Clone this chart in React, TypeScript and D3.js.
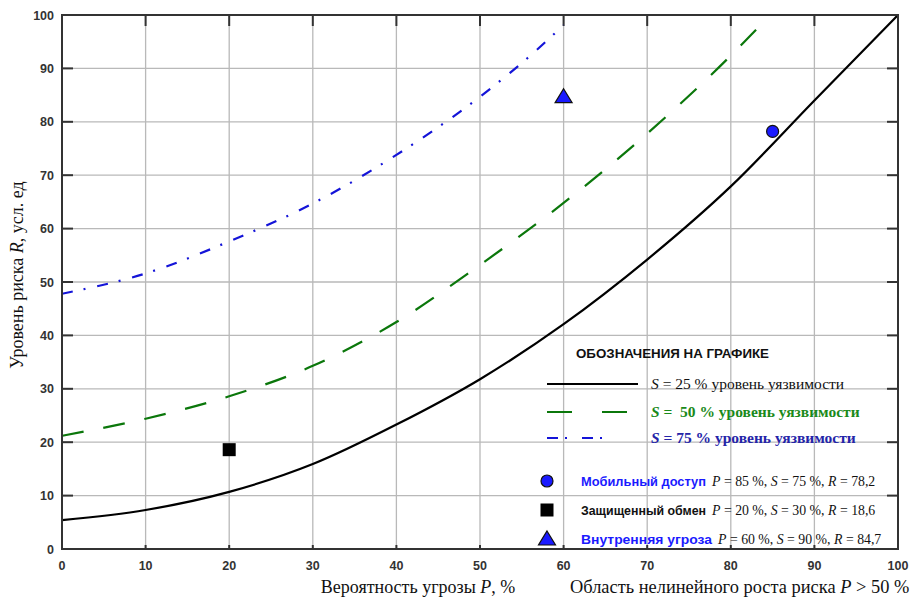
import React from 'react'
import * as d3 from 'd3'

// данные
const ticks = [0, 10, 20, 30, 40, 50, 60, 70, 80, 90, 100]

const pS25 = [0, 10, 20, 30, 40, 50, 60, 70, 80, 90, 100]
const rS25 = [5.4, 7.3, 10.7, 15.9, 23.3, 31.8, 42.1, 54.2, 67.9, 84.0, 100]

const pS50 = [0, 10, 20, 30, 40, 50, 60, 70, 80, 84.7]
const rS50 = [21.2, 24.4, 28.6, 34.3, 42.5, 53.2, 64.8, 77.8, 92.4, 100]

const pS75 = [0, 10, 20, 30, 40, 50, 55, 60]
const rS75 = [47.8, 51.6, 57.6, 64.7, 73.8, 84.7, 91.0, 98.1]

const pointNames = ['Мобильный доступ', 'Защищенный обмен', 'Внутренняя угроза']
const pointP = [85, 20, 60]
const pointS = [75, 30, 90]
const pointR = [78.2, 18.6, 84.7]

const W = 916, H = 598
const left = 62, right = 898, top = 15, bottom = 549

const x = d3.scaleLinear().domain([0, 100]).range([left, right])
const y = d3.scaleLinear().domain([0, 100]).range([bottom, top])

const line = d3.line<[number, number]>()
    .x(d => x(d[0]))
    .y(d => y(d[1]))
    .curve(d3.curveMonotoneX)

const zip = (a: number[], b: number[]) => a.map((v, i) => [v, b[i]] as [number, number])

const GREEN = '#0b770b'
const BLUE = '#1414d8'
const MARK_BLUE = '#1a1aff'

const serif = '"Liberation Serif", "Times New Roman", serif'
const sans = '"Liberation Sans", Arial, sans-serif'

const Marker = ({ i, cx, cy }: { i: number, cx: number, cy: number }) => {
    if (i === 0) return <circle cx={cx} cy={cy} r={6} fill={MARK_BLUE} stroke="#111" strokeWidth={1.2} />
    if (i === 1) return <rect x={cx - 6.5} y={cy - 6.5} width={13} height={13} fill="#000" />
    return <path d={`M${cx},${cy - 8} L${cx + 8.5},${cy + 6} L${cx - 8.5},${cy + 6} Z`} fill={MARK_BLUE} stroke="#111" strokeWidth={1.2} />
}

export default function App() {
    const legendX = 547
    const nameWidths = [125, 125, 131]
    const nameColors = [MARK_BLUE, '#111', MARK_BLUE]
    const itemY = [481, 510, 539]

    return (
        <svg width={W} height={H} style={{ display: 'block', position: 'absolute', left: 0, top: 0 }}>
            <rect width={W} height={H} fill="#fff" />

            {/* сетка */}
            {ticks.slice(1, -1).map(t => (
                <line key={'gx' + t} x1={x(t)} x2={x(t)} y1={top} y2={bottom} stroke="#b9b9b9" strokeWidth={1.3} />
            ))}
            {ticks.slice(1, -1).map(t => (
                <line key={'gy' + t} x1={left} x2={right} y1={y(t)} y2={y(t)} stroke="#b9b9b9" strokeWidth={1.3} />
            ))}

            {/* внутренние засечки */}
            {ticks.slice(1, -1).map(t => (
                <g key={'tk' + t} stroke="#333" strokeWidth={2}>
                    <line x1={left} x2={left + 11} y1={y(t)} y2={y(t)} />
                    <line x1={right - 11} x2={right} y1={y(t)} y2={y(t)} />
                    <line x1={x(t)} x2={x(t)} y1={top} y2={top + 11} />
                    <line x1={x(t)} x2={x(t)} y1={bottom - 4} y2={bottom} />
                </g>
            ))}

            {/* кривые */}
            <path d={line(zip(pS75, rS75)) || ''} fill="none" stroke={BLUE} strokeWidth={2.2} strokeDasharray="11 11 2 12" />
            <path d={line(zip(pS50, rS50)) || ''} fill="none" stroke={GREEN} strokeWidth={2.2} strokeDasharray="22 20" />
            <path d={line(zip(pS25, rS25)) || ''} fill="none" stroke="#000" strokeWidth={2.2} />

            {/* точки */}
            {pointNames.map((n, i) => (
                <Marker key={'pt' + i} i={i} cx={x(pointP[i])} cy={y(pointR[i])} />
            ))}

            {/* рамка */}
            <rect x={left} y={top} width={right - left} height={bottom - top} fill="none" stroke="#333" strokeWidth={2} />

            {/* подписи осей */}
            {ticks.map(t => (
                <text key={'yl' + t} x={left - 8} y={y(t) + 4.5} textAnchor="end" fontFamily={sans} fontWeight="bold" fontSize={12.5} fill="#333">{t}</text>
            ))}
            {ticks.map(t => (
                <text key={'xl' + t} x={x(t)} y={bottom + 21} textAnchor="middle" fontFamily={sans} fontWeight="bold" fontSize={12.5} fill="#333">{t}</text>
            ))}

            <text transform={`translate(23, 275) rotate(-90)`} textAnchor="middle" fontFamily={serif} fontSize={18} fill="#111">
                Уровень риска <tspan fontStyle="italic">R</tspan>, усл. ед
            </text>
            <text x={418} y={593} textAnchor="middle" fontFamily={serif} fontSize={18} fill="#111">
                Вероятность угрозы <tspan fontStyle="italic">P</tspan>, %
            </text>
            <text x={570} y={593} fontFamily={serif} fontSize={18.4} fill="#111">
                Область нелинейного роста риска <tspan fontStyle="italic">P</tspan> {'>'} 50 %
            </text>

            {/* легенда */}
            <text x={576} y={358} fontFamily={sans} fontWeight="bold" fontSize={13.5} fill="#111" textLength={193} lengthAdjust="spacingAndGlyphs">
                ОБОЗНАЧЕНИЯ НА ГРАФИКЕ
            </text>

            <line x1={legendX} x2={638} y1={384} y2={384} stroke="#000" strokeWidth={2.2} />
            <text x={651} y={389} fontFamily={serif} fontSize={15.5} fill="#111">
                <tspan fontStyle="italic">S</tspan> = 25 % уровень уязвимости
            </text>

            <line x1={legendX} x2={630} y1={412} y2={412} stroke={GREEN} strokeWidth={2.2} strokeDasharray="25 30" />
            <text x={651} y={417} fontFamily={serif} fontSize={15.5} fontWeight="bold" fill="#1a8a1a" style={{ whiteSpace: 'pre' }}>
                <tspan fontStyle="italic">S</tspan>{' =  50 % уровень уязвимости'}
            </text>

            <line x1={legendX} x2={605} y1={438} y2={438} stroke={BLUE} strokeWidth={2.2} strokeDasharray="11 7 2 15" />
            <text x={651} y={443} fontFamily={serif} fontSize={15.5} fontWeight="bold" fill="#2424a8">
                <tspan fontStyle="italic">S</tspan> = 75 % уровень уязвимости
            </text>

            {pointNames.map((n, i) => (
                <g key={'lg' + i}>
                    <Marker i={i} cx={legendX} cy={itemY[i]} />
                    <text x={581} y={itemY[i] + 5} fontFamily={sans} fontWeight="bold" fontSize={12.5} fill={nameColors[i]} textLength={nameWidths[i]} lengthAdjust="spacingAndGlyphs">{n}</text>
                    <text x={581 + nameWidths[i] + 6} y={itemY[i] + 5} fontFamily={serif} fontSize={13.8} fill="#111">
                        <tspan fontStyle="italic">P</tspan> = {pointP[i]} %, <tspan fontStyle="italic">S</tspan> = {pointS[i]} %, <tspan fontStyle="italic">R</tspan> = {String(pointR[i]).replace('.', ',')}
                    </text>
                </g>
            ))}
        </svg>
    )
}
